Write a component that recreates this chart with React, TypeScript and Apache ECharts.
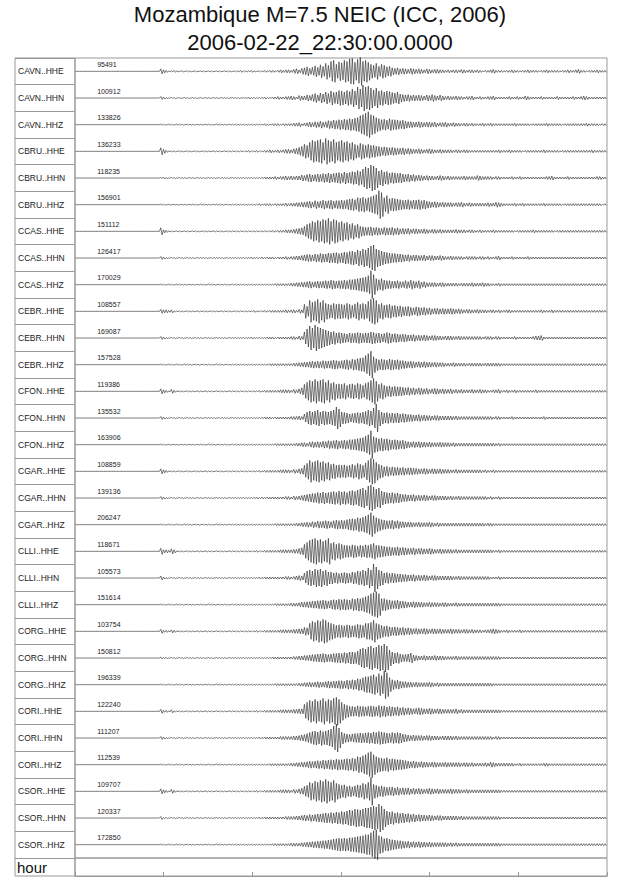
import { useEffect, useRef } from "react";
import * as echarts from "echarts";

const FONT = "'Liberation Sans', Arial, Helvetica, sans-serif";

const STATIONS = [
  "CAVN..HHE", "CAVN..HHN", "CAVN..HHZ",
  "CBRU..HHE", "CBRU..HHN", "CBRU..HHZ",
  "CCAS..HHE", "CCAS..HHN", "CCAS..HHZ",
  "CEBR..HHE", "CEBR..HHN", "CEBR..HHZ",
  "CFON..HHE", "CFON..HHN", "CFON..HHZ",
  "CGAR..HHE", "CGAR..HHN", "CGAR..HHZ",
  "CLLI..HHE", "CLLI..HHN", "CLLI..HHZ",
  "CORG..HHE", "CORG..HHN", "CORG..HHZ",
  "CORI..HHE", "CORI..HHN", "CORI..HHZ",
  "CSOR..HHE", "CSOR..HHN", "CSOR..HHZ",
];

// max counts printed above each trace
const COUNTS = [
  95491, 100912, 133826, 136233, 118235, 156901, 151112, 126417, 170029, 108557,
  169087, 157528, 119386, 135532, 163906, 108859, 139136, 206247, 118671, 105573,
  151614, 103754, 150812, 196339, 122240, 111207, 112539, 109707, 120337, 172850,
];

const HOURS = 6;

// peak amplitude per 0.03 h bin (1 unit = half a pixel)
const CAVN_HHE = [0,0,0,0,0,0,0,0,0,0, 0,0,0,0,0,0,0,0,0,0, 0,0,0,0,0,0,0,0,0,0, 0,0,5,3,2,1,1,2,1,0, 1,0,1,1,0,1,0,1,1,0, 1,1,0,1,1,0,1,1,1,0, 1,1,2,1,1,1,2,1,0,1, 1,2,1,2,2,1,2,3,2,3, 3,2,4,5,3,6,7,9,6,8, 11,8,13,10,16,12,20,22,14,19, 17,22,20,25,26,18,24,28,20,22, 18,14,12,16,10,14,12,9,10,7, 6,7,5,6,5,4,6,5,4,5, 4,3,5,4,3,4,4,3,3,2, 3,2,3,3,2,4,3,2,3,3, 2,3,2,1,2,2,3,4,2,2, 2,1,2,2,3,2,2,1,2,2, 3,2,2,2,1,2,2,3,2,2, 2,2,1,2,2,3,2,2,3,4, 2,2,1,2,2,2,3,2,2,2];
const CAVN_HHN = [0,0,0,0,0,0,0,0,0,0, 0,0,0,0,0,0,0,0,0,0, 0,0,0,0,0,0,0,0,0,0, 0,0,3,2,1,0,1,1,0,1, 0,1,1,0,1,1,0,1,0,1, 1,0,1,1,0,1,1,1,0,1, 1,1,0,1,1,2,1,1,1,1, 1,2,1,1,2,2,3,2,2,3, 3,4,3,2,5,4,4,6,5,7, 9,6,10,8,12,9,14,11,12,15, 14,12,15,13,18,14,22,18,26,22, 24,20,16,20,14,15,12,14,13,11, 10,12,8,7,6,7,5,6,5,6, 5,4,6,5,7,5,4,6,4,3, 4,3,3,4,3,3,2,3,3,4, 2,2,3,2,2,3,3,4,2,2, 2,2,2,3,2,2,3,2,2,4, 3,2,2,2,2,3,2,2,2,2, 2,3,2,2,2,2,2,3,2,2, 3,4,3,2,2,2,2,2,2,2];
const CAVN_HHZ = [0,0,0,0,0,0,0,0,0,0, 0,0,0,0,0,0,0,0,0,0, 0,0,0,0,0,0,0,0,0,0, 0,0,1,1,0,1,1,0,1,1, 1,0,1,1,1,0,1,1,0,1, 1,1,0,1,1,1,1,0,1,1, 1,1,1,1,1,1,1,1,1,1, 1,2,1,1,2,2,2,1,2,2, 2,2,3,3,4,2,3,4,5,4, 6,5,7,5,6,8,7,9,8,10, 9,11,10,12,11,13,14,18,20,23, 26,20,18,14,12,10,11,9,12,10, 10,9,8,9,7,6,6,5,5,6, 5,4,5,5,4,5,3,4,4,5, 3,3,4,3,3,2,3,3,2,3, 2,2,2,3,2,2,3,2,2,2, 2,2,2,2,2,3,2,2,2,2, 2,1,2,2,2,2,2,3,2,2, 2,2,2,1,2,2,2,2,2,2, 2,2,3,2,2,2,2,1,2,2];
const CBRU_HHE = [0,0,0,0,0,0,0,0,0,0, 0,0,0,0,0,0,0,0,0,0, 0,0,0,0,0,0,0,0,0,0, 0,0,7,4,2,1,1,1,0,1, 1,0,1,1,0,1,1,0,1,1, 1,0,1,1,1,0,1,1,1,1, 1,1,1,1,1,2,1,1,2,1, 1,2,2,3,2,2,3,2,3,4, 4,3,5,6,8,10,14,12,18,22, 20,22,24,18,26,22,20,24,18,20, 22,18,20,16,18,14,12,16,14,12, 14,12,12,10,10,8,9,8,7,8, 7,6,6,7,5,6,5,4,4,5, 4,3,4,5,4,3,3,4,3,3, 3,3,2,3,3,2,3,3,2,2, 2,2,2,2,2,2,2,2,2,3, 2,2,2,3,2,2,2,2,1,2, 2,2,2,2,2,2,3,2,2,2, 2,2,1,2,2,2,2,2,2,2, 2,2,2,2,3,2,2,2,2,2];
const CBRU_HHN = [0,0,0,0,0,0,0,0,0,0, 0,0,0,0,0,0,0,0,0,0, 0,0,0,0,0,0,0,0,0,0, 0,0,1,2,1,0,1,1,0,1, 1,1,0,1,1,0,1,1,1,0, 1,1,1,0,1,1,1,1,0,1, 1,1,1,1,1,1,1,1,1,1, 1,2,2,2,2,3,2,3,3,4, 3,4,3,4,4,6,5,7,8,6, 7,8,7,9,8,10,8,9,10,11, 9,12,10,11,13,12,15,13,18,22, 20,26,24,20,14,16,12,13,10,11, 10,9,10,8,7,8,6,7,5,6, 5,4,5,4,4,3,4,5,4,3, 4,3,3,3,3,3,4,3,3,3, 3,5,4,3,3,3,3,2,3,3, 2,2,2,2,3,2,2,3,2,2, 2,2,2,2,2,2,2,3,3,4, 2,2,2,2,2,3,2,2,2,2, 2,2,2,2,2,2,3,3,2,2];
const CBRU_HHZ = [0,0,0,0,0,0,0,0,0,0, 0,0,0,0,0,0,0,0,0,0, 0,0,0,0,0,0,0,0,0,0, 0,0,1,1,0,1,0,1,1,0, 1,1,0,1,1,1,0,1,1,1, 1,0,1,1,1,1,0,1,1,1, 1,1,1,1,1,1,1,1,1,2, 1,2,2,2,1,2,2,2,2,3, 2,3,3,4,4,5,5,6,7,5, 8,6,7,9,7,8,9,7,8,8, 9,8,10,11,12,10,14,13,15,12, 14,16,18,20,28,24,14,18,12,13, 12,11,10,9,9,10,8,9,9,10, 8,9,7,6,5,6,5,4,5,4, 4,4,3,4,4,5,3,3,4,3, 3,3,3,3,3,4,3,3,5,4, 3,2,2,2,2,3,2,2,3,2, 2,2,2,2,2,2,3,2,2,2, 2,2,2,1,2,2,2,2,2,2, 2,2,2,2,2,2,2,2,1,2];
const CCAS_HHE = [0,0,0,0,0,0,0,0,0,0, 0,0,0,0,0,0,0,0,0,0, 0,0,0,0,0,0,0,0,0,0, 0,0,7,3,2,1,1,0,1,1, 0,1,1,0,1,1,1,0,1,1, 1,0,1,1,1,1,0,1,1,1, 1,1,1,1,1,1,1,1,1,1, 1,1,1,1,2,1,2,2,2,3, 3,3,4,5,6,7,10,14,16,20, 18,22,20,24,22,26,20,24,22,18, 20,16,18,14,16,12,14,10,9,8, 8,9,7,8,7,6,8,7,7,8, 6,7,5,6,5,6,4,5,5,4, 4,5,4,3,4,4,3,4,3,3, 3,3,3,4,3,3,3,2,3,3, 2,2,3,2,2,2,2,3,2,2, 2,2,2,2,2,1,2,2,2,2, 2,2,3,2,2,2,2,2,2,2, 1,2,2,2,2,2,2,2,2,2, 2,2,2,2,2,2,2,2,2,2];
const CCAS_HHN = [0,0,0,0,0,0,0,0,0,0, 0,0,0,0,0,0,0,0,0,0, 0,0,0,0,0,0,0,0,0,0, 0,0,3,2,1,0,1,1,0,1, 1,0,1,1,1,0,1,1,1,1, 0,1,1,1,1,1,0,1,1,1, 1,1,1,1,1,1,2,1,1,1, 2,1,2,2,2,1,2,2,2,3, 2,3,3,4,4,5,6,7,7,6, 8,7,9,8,8,10,9,10,11,9, 10,12,11,13,14,12,16,14,18,16, 20,24,26,18,16,14,12,11,10,9, 9,8,8,7,6,7,5,6,6,5, 5,6,4,5,5,4,4,5,4,3, 3,4,3,3,3,3,2,3,3,3, 3,2,3,3,2,3,2,2,3,4, 2,2,2,2,3,2,2,2,2,2, 3,2,2,2,2,2,2,2,2,2, 2,2,2,2,2,2,2,2,2,2, 2,2,2,2,2,2,2,2,2,2];
const CCAS_HHZ = [0,0,0,0,0,0,0,0,0,0, 0,0,0,0,0,0,0,0,0,0, 0,0,0,0,0,0,0,0,0,0, 0,0,1,1,0,1,1,0,1,1, 1,1,0,1,1,0,1,1,1,0, 1,1,1,0,1,1,1,1,0,1, 1,1,1,1,1,1,1,1,1,1, 1,1,1,1,1,2,2,2,2,2, 2,3,3,4,4,5,5,6,7,5, 6,7,6,7,8,7,9,8,7,8, 8,9,8,10,10,11,12,13,14,15, 18,28,20,12,10,12,9,8,8,7, 7,8,6,6,8,6,9,7,6,8, 5,6,4,4,4,4,3,4,4,3, 3,3,3,3,2,3,3,3,3,4, 3,3,3,4,3,3,2,2,2,3, 2,2,2,2,2,2,2,2,2,2, 2,2,2,2,2,2,2,2,2,2, 2,2,2,2,2,2,2,2,2,2, 2,2,2,2,2,2,2,2,2,2];
const CEBR_HHE = [0,0,0,0,0,0,0,0,0,0, 0,0,0,0,0,0,0,0,0,0, 0,0,0,0,0,0,0,0,0,0, 0,0,4,3,3,2,3,1,1,1, 1,0,1,1,1,0,1,1,1,1, 0,1,1,1,0,1,1,1,1,0, 1,1,1,1,1,1,1,2,1,1, 1,2,1,2,2,2,2,2,2,3, 2,3,3,2,4,3,14,10,22,18, 20,24,18,22,16,14,13,16,14,15, 14,13,16,14,12,15,18,14,16,14, 20,24,26,22,14,16,12,13,14,11, 12,10,11,9,9,10,8,7,9,8, 7,8,6,7,5,6,6,5,6,5, 5,6,5,4,5,4,3,4,4,3, 3,4,3,3,3,2,3,3,2,3, 2,2,3,3,2,2,2,2,2,2, 2,2,2,2,2,3,2,2,2,3, 2,2,2,2,2,2,2,2,2,2, 2,2,2,2,2,2,2,2,2,2];
const CEBR_HHN = [0,0,0,0,0,0,0,0,0,0, 0,0,0,0,0,0,0,0,0,0, 0,0,0,0,0,0,0,0,0,0, 0,0,3,2,1,0,1,1,0,1, 1,0,1,1,0,1,1,1,0,1, 1,1,0,1,1,1,1,0,1,1, 1,1,1,1,1,1,2,1,1,1, 1,1,2,2,2,1,2,2,2,2, 2,3,3,2,4,3,12,18,24,20, 26,22,20,18,16,14,12,13,10,11, 10,9,8,10,9,10,11,10,9,10, 10,12,11,9,10,8,9,11,10,8, 9,8,7,8,7,6,6,7,5,6, 5,6,5,4,5,5,4,4,3,4, 4,4,3,3,4,3,3,3,3,3, 3,3,3,2,3,3,3,2,3,3, 2,2,2,2,2,3,2,2,2,2, 2,2,3,4,4,5,2,2,2,2, 2,2,2,2,2,2,2,2,2,2, 2,2,2,2,2,2,2,2,2,2];
const CEBR_HHZ = [0,0,0,0,0,0,0,0,0,0, 0,0,0,0,0,0,0,0,0,0, 0,0,0,0,0,0,0,0,0,0, 0,0,1,1,0,1,1,0,1,1, 0,1,1,1,0,1,1,0,1,1, 1,1,0,1,1,1,0,1,1,1, 1,1,1,1,1,1,1,1,1,1, 1,1,1,2,2,2,2,2,2,2, 2,2,3,3,4,4,5,5,6,7, 6,7,6,8,7,7,8,9,8,7, 8,9,10,8,11,10,12,13,14,18, 22,27,16,12,10,11,10,9,11,10, 9,10,8,8,7,6,7,6,5,6, 5,6,5,5,4,5,4,4,4,3, 3,3,4,3,3,3,3,2,3,3, 3,3,3,2,3,3,3,3,3,3, 2,2,2,2,2,2,2,2,2,2, 2,2,2,2,2,2,2,2,2,2, 2,2,2,2,2,2,2,2,2,2, 2,2,2,2,2,2,2,2,2,2];
const CFON_HHE = [0,0,0,0,0,0,0,0,0,0, 0,0,0,0,0,0,0,0,0,0, 0,0,0,0,0,0,0,0,0,0, 0,0,5,3,2,1,4,2,1,1, 1,0,1,1,1,0,1,1,0,1, 1,1,0,1,1,1,1,0,1,1, 1,1,1,1,1,1,1,1,1,2, 1,2,2,2,2,2,2,3,3,3, 3,2,4,3,5,7,14,18,22,20, 24,20,22,24,18,22,16,18,14,15, 14,16,12,14,15,13,16,14,12,16, 18,22,26,20,14,16,12,10,11,9, 10,9,9,8,7,8,6,7,5,7, 6,5,6,4,5,6,5,4,5,4, 4,5,3,4,3,4,3,3,3,4, 3,3,4,3,3,2,2,3,3,4, 2,2,3,2,2,3,2,2,2,2, 2,2,2,3,2,2,2,2,2,2, 2,2,2,2,2,2,2,2,2,2, 2,2,2,2,2,2,2,2,2,2];
const CFON_HHN = [0,0,0,0,0,0,0,0,0,0, 0,0,0,0,0,0,0,0,0,0, 0,0,0,0,0,0,0,0,0,0, 0,0,3,2,1,0,1,1,0,1, 1,0,1,1,1,0,1,1,0,1, 1,1,1,0,1,1,1,1,0,1, 1,1,1,1,1,1,1,1,1,1, 1,2,2,2,1,2,2,2,2,2, 2,3,3,3,4,3,8,12,14,12, 14,16,12,14,13,12,14,16,22,18, 12,11,10,8,9,10,11,10,12,13, 16,14,20,28,16,12,10,11,9,10, 9,10,8,9,8,7,7,6,6,7, 5,6,5,5,4,5,5,4,4,4, 4,4,3,4,3,3,3,3,3,3, 3,3,3,3,3,3,3,2,3,3, 2,2,2,2,3,2,2,2,2,2, 2,2,2,2,2,2,3,2,2,2, 2,2,2,2,2,2,2,2,2,2, 2,2,2,2,2,2,2,2,2,2];
const CFON_HHZ = [0,0,0,0,0,0,0,0,0,0, 0,0,0,0,0,0,0,0,0,0, 0,0,0,0,0,0,0,0,0,0, 0,0,1,1,0,1,0,1,1,0, 1,1,0,1,1,0,1,1,1,0, 1,1,1,0,1,1,1,1,0,1, 1,1,1,1,1,1,1,1,1,1, 1,1,1,1,1,2,2,2,2,2, 2,2,2,3,3,4,4,3,5,6, 5,6,5,7,6,8,7,8,9,7, 8,9,8,10,10,11,12,13,14,17, 20,28,16,14,12,13,11,12,10,9, 10,9,8,9,7,6,5,6,5,6, 5,5,4,5,4,4,4,5,4,4, 4,3,4,3,3,3,3,3,3,3, 3,3,3,3,3,3,3,3,2,3, 2,2,2,2,2,2,2,2,2,2, 2,2,2,2,2,2,2,2,2,2, 2,2,2,2,2,2,2,2,2,2, 2,2,2,2,2,2,2,2,2,2];
const CGAR_HHE = [0,0,0,0,0,0,0,0,0,0, 0,0,0,0,0,0,0,0,0,0, 0,0,0,0,0,0,0,0,0,0, 0,0,5,3,2,1,1,1,0,1, 1,0,1,1,0,1,1,1,0,1, 1,1,0,1,1,1,0,1,1,1, 1,1,1,1,1,1,1,1,1,2, 1,2,2,2,2,2,2,3,3,3, 3,2,4,3,5,6,12,16,22,18, 20,22,18,20,16,18,14,15,12,13, 12,13,11,12,14,12,16,14,12,17, 22,26,24,18,14,12,9,10,8,9, 8,8,7,8,6,7,7,6,6,5, 5,6,5,4,5,5,4,5,4,4, 4,3,3,4,3,3,3,3,3,3, 3,3,3,2,3,2,2,3,2,2, 2,2,2,2,2,2,2,2,2,2, 2,2,2,2,2,2,2,2,2,2, 2,2,2,2,2,2,2,2,2,2, 2,2,2,2,2,2,2,2,2,2];
const CGAR_HHN = [0,0,0,0,0,0,0,0,0,0, 0,0,0,0,0,0,0,0,0,0, 0,0,0,0,0,0,0,0,0,0, 0,0,3,2,1,0,1,1,0,1, 1,0,1,1,1,0,1,1,0,1, 1,1,0,1,1,1,1,0,1,1, 1,1,1,1,1,1,1,1,2,1, 2,1,2,2,2,2,2,2,2,3, 3,2,4,3,4,5,6,7,8,9, 9,11,10,12,10,11,12,13,11,14, 12,13,11,14,15,13,16,18,20,16, 24,26,22,18,20,14,12,11,10,11, 9,10,8,7,7,6,6,7,5,6, 5,6,5,4,5,5,4,4,4,4, 3,4,3,3,4,3,3,3,3,3, 3,3,3,3,3,2,3,2,2,3, 2,2,2,2,2,2,2,2,2,2, 2,2,2,2,2,2,2,2,2,2, 2,2,2,2,2,2,2,2,2,2, 2,2,2,2,2,2,2,2,2,2];
const CGAR_HHZ = [0,0,0,0,0,0,0,0,0,0, 0,0,0,0,0,0,0,0,0,0, 0,0,0,0,0,0,0,0,0,0, 0,0,1,1,0,1,1,0,1,1, 0,1,1,1,0,1,1,0,1,1, 1,1,0,1,1,1,1,0,1,1, 1,1,1,1,1,1,1,1,1,1, 1,1,1,1,1,2,2,2,2,2, 2,2,2,3,3,4,4,5,4,6, 5,7,6,7,8,7,6,8,9,8, 9,8,10,11,12,11,14,13,15,17, 20,24,18,14,12,10,9,8,8,9, 7,8,6,6,5,5,5,4,4,5, 4,4,4,5,4,3,4,3,3,3, 3,3,3,3,3,3,3,3,3,3, 3,3,3,3,2,3,3,2,2,2, 2,2,2,2,2,2,2,2,2,2, 2,2,2,2,2,2,2,2,2,2, 2,2,2,2,2,2,2,2,2,2, 2,2,2,2,2,2,2,2,2,2];
const CLLI_HHE = [0,0,0,0,0,0,0,0,0,0, 0,0,0,0,0,0,0,0,0,0, 0,0,0,0,0,0,0,0,0,0, 0,0,6,3,3,2,5,3,1,1, 1,0,1,1,1,0,1,1,0,1, 1,1,0,1,1,1,1,0,1,1, 1,1,1,1,1,1,1,1,2,1, 1,2,2,2,2,2,2,3,3,3, 3,3,4,4,6,7,14,18,22,24, 26,22,24,20,22,26,16,18,14,16, 14,12,12,11,13,12,10,12,11,13, 12,14,16,12,12,11,10,9,9,8, 8,9,7,8,7,6,6,7,5,6, 6,5,5,6,5,4,4,5,4,4, 4,4,3,4,3,3,3,3,3,3, 3,3,3,3,3,3,3,2,2,3, 2,2,2,2,2,2,2,2,2,2, 2,2,2,2,2,2,2,2,2,2, 2,2,2,2,2,2,2,2,2,2, 2,2,2,2,2,2,2,2,2,2];
const CLLI_HHN = [0,0,0,0,0,0,0,0,0,0, 0,0,0,0,0,0,0,0,0,0, 0,0,0,0,0,0,0,0,0,0, 0,0,4,2,1,0,1,1,0,1, 1,0,1,1,0,1,1,1,0,1, 1,1,0,1,1,1,1,0,1,1, 1,1,1,1,1,1,1,1,1,2, 1,2,2,2,2,2,2,2,2,3, 3,2,3,4,5,4,10,14,16,14, 18,16,18,14,16,12,12,10,11,9, 10,11,10,9,12,11,14,13,16,14, 20,16,28,22,16,14,10,11,9,10, 9,8,8,7,7,6,6,7,5,6, 5,6,5,4,5,5,4,4,4,4, 4,4,3,3,4,3,3,3,3,3, 3,3,3,3,3,3,2,2,2,3, 2,2,2,2,2,2,2,2,2,2, 2,2,2,2,2,2,2,2,2,2, 2,2,2,2,2,2,2,2,2,2, 2,2,2,2,2,2,2,2,2,2];
const CLLI_HHZ = [0,0,0,0,0,0,0,0,0,0, 0,0,0,0,0,0,0,0,0,0, 0,0,0,0,0,0,0,0,0,0, 0,0,1,1,0,1,1,0,1,1, 1,0,1,1,1,0,1,1,1,0, 1,1,1,0,1,1,1,1,0,1, 1,1,1,1,1,1,1,1,1,1, 1,1,1,1,1,2,2,2,2,2, 2,3,3,3,4,5,5,6,6,7, 7,8,8,9,8,7,9,10,9,11, 10,11,10,9,12,11,13,12,14,16, 18,22,24,26,22,12,12,10,9,8, 8,9,7,7,6,5,5,6,5,5, 5,4,4,5,4,4,4,3,4,4, 3,3,3,4,3,3,3,3,3,3, 3,3,3,3,3,3,3,3,3,3, 2,2,2,2,2,2,2,2,2,2, 2,2,2,2,2,2,2,2,2,2, 2,2,2,2,2,2,2,2,2,2, 2,2,2,2,2,2,2,2,2,2];
const CORG_HHE = [0,0,0,0,0,0,0,0,0,0, 0,0,0,0,0,0,0,0,0,0, 0,0,0,0,0,0,0,0,0,0, 0,0,4,2,2,1,3,2,1,1, 1,0,1,1,1,0,1,1,0,1, 1,1,0,1,1,1,1,0,1,1, 1,1,1,1,1,1,1,1,2,1, 1,2,2,2,2,2,2,3,3,3, 3,3,4,4,5,5,8,7,16,20, 18,22,20,24,22,18,16,14,12,13, 12,11,13,12,11,12,14,13,12,16, 16,18,22,16,14,12,10,11,9,8, 9,8,7,8,6,7,6,5,6,5, 5,6,5,4,5,5,4,5,4,4, 4,5,4,4,4,3,4,4,3,4, 3,3,3,2,3,3,4,5,4,3, 2,2,3,2,2,2,2,3,2,2, 2,2,2,2,2,2,2,2,2,2, 2,2,2,2,2,2,2,2,2,2, 2,2,2,2,2,2,2,2,2,2];
const CORG_HHN = [0,0,0,0,0,0,0,0,0,0, 0,0,0,0,0,0,0,0,0,0, 0,0,0,0,0,0,0,0,0,0, 0,0,2,1,1,0,1,1,0,1, 1,0,1,1,1,0,1,1,1,0, 1,1,0,1,1,1,1,0,1,1, 1,1,1,1,1,1,1,1,1,1, 1,1,1,1,2,2,2,2,2,2, 2,2,3,3,4,4,5,5,6,7, 7,8,8,9,8,7,8,9,9,10, 9,11,10,12,12,11,14,18,20,18, 22,24,20,22,26,24,28,24,16,12, 10,11,8,7,7,8,10,6,5,4, 4,5,4,4,4,5,4,4,4,3, 3,3,3,4,3,3,3,3,3,3, 3,3,3,3,3,3,3,3,3,3, 2,2,2,2,2,2,2,2,2,2, 2,2,2,2,2,2,2,2,2,2, 2,2,2,2,2,2,2,2,2,2, 2,2,2,2,2,2,2,2,2,2];
const CORG_HHZ = [0,0,0,0,0,0,0,0,0,0, 0,0,0,0,0,0,0,0,0,0, 0,0,0,0,0,0,0,0,0,0, 0,0,1,1,0,1,1,0,1,1, 1,0,1,1,1,0,1,1,0,1, 1,1,0,1,1,1,1,0,1,1, 1,1,1,1,1,1,1,1,1,1, 1,1,1,1,1,2,2,2,2,2, 2,2,2,2,3,3,4,4,5,4, 5,6,5,5,6,7,6,7,7,8, 8,7,9,8,10,9,12,11,14,16, 16,18,20,16,22,18,28,24,14,10, 8,9,7,6,6,5,5,4,5,4, 4,4,4,5,4,3,4,3,3,3, 3,3,3,3,3,3,3,3,3,3, 3,3,3,3,3,3,3,2,2,2, 2,2,2,2,2,2,2,2,2,2, 2,2,2,2,2,2,2,2,2,2, 2,2,2,2,2,2,2,2,2,2, 2,2,2,2,2,2,2,2,2,2];
const CORI_HHE = [0,0,0,0,0,0,0,0,0,0, 0,0,0,0,0,0,0,0,0,0, 0,0,0,0,0,0,0,0,0,0, 0,0,4,2,2,1,3,1,1,1, 1,0,1,1,1,0,1,1,0,1, 1,1,0,1,1,1,1,0,1,1, 1,1,1,1,1,1,1,1,2,1, 1,2,2,2,2,2,2,3,3,3, 3,3,4,4,5,5,14,18,22,20, 24,20,22,26,20,24,22,26,28,24, 18,14,12,10,10,9,11,10,10,9, 10,11,10,9,12,10,11,9,10,9, 8,9,7,8,6,7,6,5,6,7, 6,5,5,6,5,4,5,5,4,4, 4,4,4,5,3,4,3,3,3,3, 3,3,3,3,3,3,3,3,3,3, 2,2,2,2,2,2,2,2,2,2, 2,2,2,2,2,2,2,2,2,2, 2,2,2,2,2,2,2,2,2,2, 2,2,2,2,2,2,2,2,2,2];
const CORI_HHN = [0,0,0,0,0,0,0,0,0,0, 0,0,0,0,0,0,0,0,0,0, 0,0,0,0,0,0,0,0,0,0, 0,0,3,2,1,0,1,1,0,1, 1,0,1,1,1,0,1,1,0,1, 1,1,0,1,1,1,1,0,1,1, 1,1,1,1,1,1,1,1,1,2, 1,2,2,2,2,2,2,3,3,3, 3,3,4,4,5,6,7,9,11,13, 14,12,15,13,14,16,18,24,28,20, 12,9,8,7,8,9,9,10,9,10, 11,10,12,11,13,12,11,10,9,11, 10,11,10,8,7,6,5,6,5,5, 5,4,5,5,4,4,4,3,4,4, 4,4,3,4,3,3,3,3,3,3, 3,3,3,3,3,3,3,2,3,3, 2,2,2,2,2,2,2,2,2,2, 2,2,2,2,2,2,2,2,2,2, 2,2,2,2,2,2,2,2,2,2, 2,2,2,2,2,2,2,2,2,2];
const CORI_HHZ = [0,0,0,0,0,0,0,0,0,0, 0,0,0,0,0,0,0,0,0,0, 0,0,0,0,0,0,0,0,0,0, 0,0,1,1,0,1,1,0,1,1, 1,0,1,1,1,0,1,1,1,0, 1,1,0,1,1,1,1,0,1,1, 1,1,1,1,1,1,1,1,1,1, 1,1,1,2,2,2,2,2,2,2, 2,3,3,4,4,5,5,6,7,6, 7,8,7,9,8,9,10,9,11,10, 10,11,12,11,13,12,16,15,18,20, 24,26,20,16,14,13,12,14,11,12, 11,10,10,9,8,7,6,7,6,5, 6,5,5,4,5,5,4,4,4,5, 4,4,4,4,4,3,4,4,3,4, 3,3,3,3,4,3,5,4,3,3, 3,3,3,3,3,2,2,3,2,2, 2,2,2,2,2,2,3,3,2,2, 2,2,2,2,2,2,2,2,2,2, 2,2,2,2,2,2,2,2,2,2];
const CSOR_HHE = [0,0,0,0,0,0,0,0,0,0, 0,0,0,0,0,0,0,0,0,0, 0,0,0,0,0,0,0,0,0,0, 0,0,5,3,2,1,4,2,1,1, 1,0,1,1,1,0,1,1,0,1, 1,1,0,1,1,1,1,0,1,1, 1,1,1,1,1,1,1,1,2,1, 1,2,2,2,2,2,2,3,3,3, 3,2,4,3,5,6,10,12,18,16, 20,18,22,20,24,20,18,22,16,14, 12,13,10,11,9,11,13,12,16,14, 18,28,14,12,10,11,9,8,8,9, 7,8,6,7,6,7,5,6,5,6, 5,4,5,6,5,4,5,4,4,4, 4,5,4,4,4,3,3,4,3,3, 3,3,3,3,3,3,3,3,3,3, 2,2,2,2,2,2,2,2,2,2, 2,2,2,2,2,2,2,2,2,2, 2,2,2,2,2,2,2,2,2,2, 2,2,2,2,2,2,2,2,2,2];
const CSOR_HHN = [0,0,0,0,0,0,0,0,0,0, 0,0,0,0,0,0,0,0,0,0, 0,0,0,0,0,0,0,0,0,0, 0,0,3,1,1,0,1,1,0,1, 1,0,1,1,1,0,1,1,0,1, 1,1,0,1,1,1,1,0,1,1, 1,1,1,1,1,1,1,1,1,2, 1,2,2,2,2,2,2,2,2,3, 3,3,3,4,4,5,6,5,7,6, 7,8,8,9,10,9,11,10,12,11, 13,12,14,16,15,18,17,16,18,20, 20,22,24,22,28,24,18,14,12,13, 10,11,9,10,8,9,7,8,6,7, 6,6,5,6,5,4,5,5,4,4, 4,4,4,4,3,4,3,3,3,3, 3,3,3,3,3,3,3,3,3,3, 2,2,2,2,2,2,2,2,2,2, 2,2,2,2,2,2,2,2,2,2, 2,2,2,2,2,2,2,2,2,2, 2,2,2,2,2,2,2,2,2,2];
const CSOR_HHZ = [0,0,0,0,0,0,0,0,0,0, 0,0,0,0,0,0,0,0,0,0, 0,0,0,0,0,0,0,0,0,0, 0,0,1,1,0,1,1,0,1,1, 1,0,1,1,1,0,1,1,0,1, 1,1,0,1,1,1,1,0,1,1, 1,1,1,1,1,1,1,1,1,1, 1,1,1,1,2,2,2,2,2,2, 2,3,3,3,3,4,4,5,5,6, 6,7,7,8,8,9,10,11,12,13, 12,13,12,14,14,15,16,17,18,20, 20,24,28,30,18,16,12,13,11,10, 9,8,8,7,6,7,5,6,5,6, 5,5,4,5,4,4,4,4,4,4, 3,4,3,4,3,3,3,3,3,3, 3,3,3,3,3,3,3,3,3,3, 2,2,2,2,2,2,2,2,2,2, 2,2,2,2,2,2,2,2,2,2, 2,2,2,2,2,2,2,2,2,2, 2,2,2,2,2,2,2,2,2,2];

const TRACES = [
  CAVN_HHE, CAVN_HHN, CAVN_HHZ, CBRU_HHE, CBRU_HHN, CBRU_HHZ,
  CCAS_HHE, CCAS_HHN, CCAS_HHZ, CEBR_HHE, CEBR_HHN, CEBR_HHZ,
  CFON_HHE, CFON_HHN, CFON_HHZ, CGAR_HHE, CGAR_HHN, CGAR_HHZ,
  CLLI_HHE, CLLI_HHN, CLLI_HHZ, CORG_HHE, CORG_HHN, CORG_HHZ,
  CORI_HHE, CORI_HHN, CORI_HHZ, CSOR_HHE, CSOR_HHN, CSOR_HHZ,
];

// one amplitude unit in row units (half a pixel of a 26.7px row)
const AMP = 0.01875;
const FRAME = "#999";
const INK = "#222";

// each bin drawn as its max then its min, like a decimated seismogram
function traceSeries(amps: number[], row: number): any {
  const step = HOURS / amps.length;
  const base = row + 0.5;
  const pts: number[][] = [];
  amps.forEach((a, i) => {
    pts.push([i * step + step * 0.25, base - a * AMP]);
    pts.push([i * step + step * 0.75, base + a * AMP]);
  });
  return {
    type: "line",
    xAxisIndex: 0,
    yAxisIndex: 0,
    data: pts,
    symbol: "none",
    silent: true,
    clip: false,
    lineStyle: { color: INK, width: 0.6 },
  };
}

function buildOption(): echarts.EChartsOption {
  return {
    animation: false,
    backgroundColor: "#fff",
    textStyle: { fontFamily: FONT },
    title: {
      text: "Mozambique M=7.5 NEIC (ICC, 2006)",
      subtext: "2006-02-22_22:30:00.0000",
      left: "center",
      top: -2,
      itemGap: 6,
      textStyle: { fontSize: 22, lineHeight: 22, fontWeight: "normal", color: "#111", fontFamily: FONT },
      subtextStyle: { fontSize: 22, lineHeight: 22, color: "#111", fontFamily: FONT },
    },
    grid: [
      { left: 75, right: 33, top: 58, height: 800, show: true, borderColor: FRAME, borderWidth: 1 },
      { left: 75, right: 33, top: 858, height: 18, show: true, borderColor: FRAME, borderWidth: 1 },
      { left: 15, width: 60, top: 58, height: 818, show: true, borderColor: FRAME, borderWidth: 1 },
    ],
    xAxis: [
      { gridIndex: 0, type: "value", min: 0, max: HOURS, interval: 1, show: false },
      {
        gridIndex: 1,
        type: "value",
        min: 0,
        max: HOURS,
        interval: 1,
        axisLine: { show: true, lineStyle: { color: FRAME } },
        axisTick: { show: true, inside: true, length: 4, lineStyle: { color: FRAME } },
        axisLabel: { show: false },
        splitLine: { show: false },
      },
      { gridIndex: 2, type: "value", min: 0, max: 1, show: false },
    ],
    yAxis: [
      { gridIndex: 0, type: "value", min: 0, max: STATIONS.length, inverse: true, show: false },
      {
        gridIndex: 0,
        type: "category",
        data: STATIONS,
        inverse: true,
        position: "left",
        axisLine: { show: false },
        axisTick: { show: true, length: 60, lineStyle: { color: FRAME } },
        axisLabel: { align: "left", margin: 57, fontSize: 8.5, color: "#222", fontFamily: FONT },
        splitLine: { show: false },
      },
      {
        gridIndex: 1,
        type: "category",
        data: ["hour"],
        axisLine: { show: false },
        axisTick: { show: false },
        axisLabel: { align: "left", margin: 58, fontSize: 15, color: "#111", fontFamily: FONT },
        splitLine: { show: false },
      },
      { gridIndex: 2, type: "value", min: 0, max: 1, show: false },
    ],
    series: [
      ...TRACES.map((amps, k) => traceSeries(amps, k)),
      {
        type: "custom",
        xAxisIndex: 0,
        yAxisIndex: 0,
        silent: true,
        data: COUNTS.map((_, k) => [0.25, k + 0.5]),
        renderItem: (params: any, api: any) => {
          const p = api.coord([api.value(0), api.value(1)]);
          return {
            type: "text",
            x: p[0],
            y: p[1] - 7,
            style: {
              text: String(COUNTS[params.dataIndex]),
              fontSize: 7,
              fontFamily: FONT,
              fill: "#222",
              verticalAlign: "middle",
              align: "left",
            },
          };
        },
      } as any,
    ],
  };
}

export default function App() {
  const chartRef = useRef<HTMLDivElement>(null);

  useEffect(() => {
    if (!chartRef.current) return;
    const chart = echarts.init(chartRef.current, undefined, { renderer: "svg" });
    chart.setOption(buildOption());
    return () => chart.dispose();
  }, []);

  return (
    <div
      ref={chartRef}
      style={{ position: "fixed", left: 0, top: 0, width: 640, height: 878, background: "#fff" }}
    />
  );
}
